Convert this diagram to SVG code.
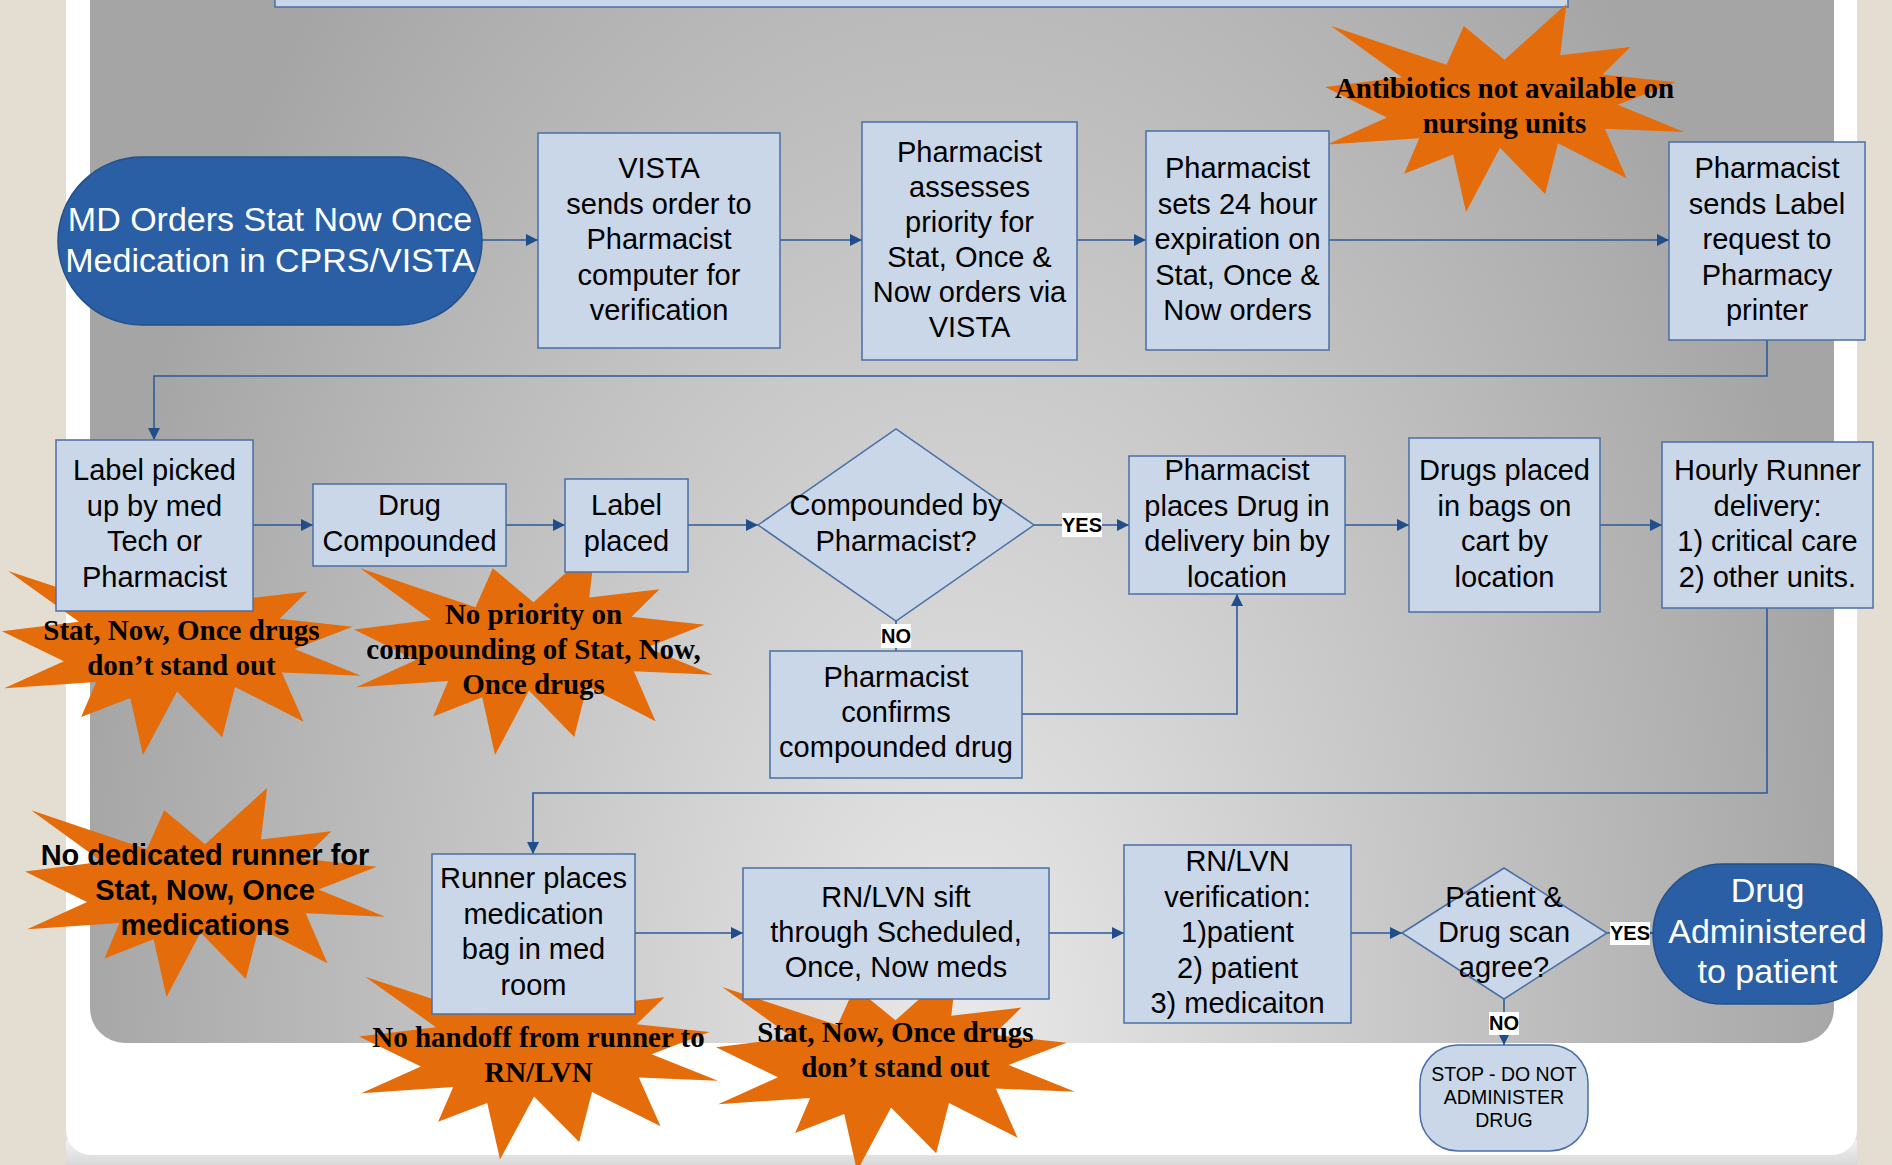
<svg xmlns="http://www.w3.org/2000/svg" xmlns:xlink="http://www.w3.org/1999/xlink" width="1892" height="1165" viewBox="0 0 1892 1165">
<style>
.box{fill:#C9D7E8;stroke:#4A6FA5;stroke-width:1.5}
.pill{fill:#2A5FA5;stroke:#23508C;stroke-width:1.5}
.t{font-family:"Liberation Sans",Arial,sans-serif;font-size:29px;fill:#000;text-anchor:middle}
.tw{font-family:"Liberation Sans",Arial,sans-serif;font-size:34px;fill:#fff;text-anchor:middle}
.ts{font-family:"Liberation Sans",Arial,sans-serif;font-size:19.5px;fill:#000;text-anchor:middle}
.burst{fill:#E46C0A}
.bt{font-family:"Liberation Serif","Times New Roman",serif;font-weight:bold;font-size:29px;fill:#000;text-anchor:middle}
.bs{font-family:"Liberation Sans",Arial,sans-serif;font-weight:bold;font-size:29px;fill:#000;text-anchor:middle}
.conn{fill:none;stroke:#2E5A97;stroke-width:1.6}
.lblbg{fill:#fff}
.lbl{font-family:"Liberation Sans",Arial,sans-serif;font-weight:bold;font-size:20px;fill:#000;text-anchor:middle}
</style>
<defs>
<radialGradient id="panelGrad" gradientUnits="userSpaceOnUse" cx="0" cy="0" r="1" gradientTransform="translate(962 1040) scale(900 1500)">
<stop offset="0" stop-color="#E9E9E9"/>
<stop offset="1" stop-color="#A5A5A5"/>
</radialGradient>
<linearGradient id="shadowGrad" x1="0" y1="0" x2="0" y2="1">
<stop offset="0" stop-color="#F2F2F2"/>
<stop offset="1" stop-color="#D8D8D8"/>
</linearGradient>
<marker id="arrow" markerUnits="userSpaceOnUse" markerWidth="12" markerHeight="12" refX="12" refY="6" orient="auto">
<path d="M0,0 L12,6 L0,12 Z" fill="#1F4E8A"/>
</marker>
<path id="seal" d="M108 58 L145.22 0 L141.55 53.25 L183.8 44.57 L167.02 73.15 L210.97 81.37 L176.07 104.75 L216 132.9 L168.37 129.42 L181.45 180.95 L140.2 144.57 L132.47 197.37 L105.32 149.35 L84.85 216 L77.15 156.27 L47.62 176.17 L56.67 139.37 L1.35 145.87 L37.22 117.75 L0 86.15 L46.27 76.17 L3.7 22.95 L73.12 63.2 L83.52 22.95 Z"/>
</defs>

<!-- background -->
<rect x="0" y="0" width="1892" height="1165" fill="#E4DDD1"/>
<rect x="66" y="1140" width="1791" height="25" fill="url(#shadowGrad)"/>
<rect x="66" y="-40" width="1791" height="1195" rx="25" ry="25" fill="#FFFFFF"/>
<rect x="90" y="-40" width="1744" height="1083" rx="35" ry="35" fill="url(#panelGrad)"/>
<rect x="275" y="-20" width="1293" height="27" class="box"/>

<!-- issue starbursts -->
<g id="burst-antibiotics">
<use xlink:href="#seal" class="burst" transform="translate(1325 4) scale(1.662 0.963)"/>
<text class="bt" x="1504.5" y="98">Antibiotics not available on</text>
<text class="bt" x="1504.5" y="133">nursing units</text>
</g>
<g id="burst-standout1">
<use xlink:href="#seal" class="burst" transform="translate(2 549) scale(1.662 0.954)"/>
<text class="bt" x="181.5" y="640">Stat, Now, Once drugs</text>
<text class="bt" x="181.5" y="675">don’t stand out</text>
</g>
<g id="burst-priority">
<use xlink:href="#seal" class="burst" transform="translate(354 546) scale(1.662 0.968)"/>
<text class="bt" x="533.5" y="624">No priority on</text>
<text class="bt" x="533.5" y="659">compounding of Stat, Now,</text>
<text class="bt" x="533.5" y="694">Once drugs</text>
</g>
<g id="burst-runner">
<use xlink:href="#seal" class="burst" transform="translate(25 788) scale(1.667 0.968)"/>
<text class="bs" x="205" y="865">No dedicated runner for</text>
<text class="bs" x="205" y="900">Stat, Now, Once</text>
<text class="bs" x="205" y="935">medications</text>
</g>
<g id="burst-handoff">
<use xlink:href="#seal" class="burst" transform="translate(359 955) scale(1.662 0.947)"/>
<text class="bt" x="538.5" y="1047">No handoff from runner to</text>
<text class="bt" x="538.5" y="1082">RN/LVN</text>
</g>
<g id="burst-standout2">
<use xlink:href="#seal" class="burst" transform="translate(716 965) scale(1.662 0.954)"/>
<text class="bt" x="895.5" y="1042">Stat, Now, Once drugs</text>
<text class="bt" x="895.5" y="1077">don’t stand out</text>
</g>

<!-- connectors -->
<g id="connectors">
<path class="conn" d="M482 240 H538" marker-end="url(#arrow)"/>
<path class="conn" d="M780 240 H862" marker-end="url(#arrow)"/>
<path class="conn" d="M1077 240 H1146" marker-end="url(#arrow)"/>
<path class="conn" d="M1329 240 H1669" marker-end="url(#arrow)"/>
<path class="conn" d="M1767 340 V376 H154 V440" marker-end="url(#arrow)"/>
<path class="conn" d="M253 525 H313" marker-end="url(#arrow)"/>
<path class="conn" d="M506 525 H565" marker-end="url(#arrow)"/>
<path class="conn" d="M688 525 H758" marker-end="url(#arrow)"/>
<path class="conn" d="M1034 525 H1129" marker-end="url(#arrow)"/>
<path class="conn" d="M896 621 V651"/>
<path class="conn" d="M1022 714 H1237 V594" marker-end="url(#arrow)"/>
<path class="conn" d="M1345 525 H1409" marker-end="url(#arrow)"/>
<path class="conn" d="M1600 525 H1662" marker-end="url(#arrow)"/>
<path class="conn" d="M1767 608 V793 H533 V854" marker-end="url(#arrow)"/>
<path class="conn" d="M635 933 H743" marker-end="url(#arrow)"/>
<path class="conn" d="M1049 933 H1124" marker-end="url(#arrow)"/>
<path class="conn" d="M1351 933 H1402" marker-end="url(#arrow)"/>
<path class="conn" d="M1607 933 H1653" marker-end="url(#arrow)"/>
<path class="conn" d="M1504 999 V1045" marker-end="url(#arrow)"/>
<rect class="lblbg" x="1062" y="513" width="40" height="24"/>
<text class="lbl" x="1082" y="532">YES</text>
<rect class="lblbg" x="881" y="624" width="30" height="24"/>
<text class="lbl" x="896" y="643">NO</text>
<rect class="lblbg" x="1610" y="922" width="40" height="23"/>
<text class="lbl" x="1630" y="940">YES</text>
<rect class="lblbg" x="1489" y="1012" width="30" height="23"/>
<text class="lbl" x="1504" y="1030">NO</text>
</g>

<!-- nodes -->
<g id="n-md-orders">
<rect class="pill" x="58" y="157" width="424" height="168" rx="84" ry="84"/>
<text class="tw" x="270" y="231">MD Orders Stat Now Once</text>
<text class="tw" x="270" y="272">Medication in CPRS/VISTA</text>
</g>
<g id="n-vista-sends">
<rect class="box" x="538" y="133" width="242" height="215"/>
<text class="t" x="659" y="178">VISTA</text>
<text class="t" x="659" y="213.5">sends order to</text>
<text class="t" x="659" y="249">Pharmacist</text>
<text class="t" x="659" y="284.5">computer for</text>
<text class="t" x="659" y="320">verification</text>
</g>
<g id="n-assesses">
<rect class="box" x="862" y="122" width="215" height="238"/>
<text class="t" x="969.5" y="162">Pharmacist</text>
<text class="t" x="969.5" y="197">assesses</text>
<text class="t" x="969.5" y="232">priority for</text>
<text class="t" x="969.5" y="267">Stat, Once &amp;</text>
<text class="t" x="969.5" y="302">Now orders via</text>
<text class="t" x="969.5" y="337">VISTA</text>
</g>
<g id="n-expiration">
<rect class="box" x="1146" y="131" width="183" height="219"/>
<text class="t" x="1237.5" y="178">Pharmacist</text>
<text class="t" x="1237.5" y="213.5">sets 24 hour</text>
<text class="t" x="1237.5" y="249">expiration on</text>
<text class="t" x="1237.5" y="284.5">Stat, Once &amp;</text>
<text class="t" x="1237.5" y="320">Now orders</text>
</g>
<g id="n-label-request">
<rect class="box" x="1669" y="142" width="196" height="198"/>
<text class="t" x="1767" y="178">Pharmacist</text>
<text class="t" x="1767" y="213.5">sends Label</text>
<text class="t" x="1767" y="249">request to</text>
<text class="t" x="1767" y="284.5">Pharmacy</text>
<text class="t" x="1767" y="320">printer</text>
</g>
<g id="n-label-picked">
<rect class="box" x="56" y="440" width="197" height="171"/>
<text class="t" x="154.5" y="480">Label picked</text>
<text class="t" x="154.5" y="515.5">up by med</text>
<text class="t" x="154.5" y="551">Tech or</text>
<text class="t" x="154.5" y="586.5">Pharmacist</text>
</g>
<g id="n-drug-compounded">
<rect class="box" x="313" y="484" width="193" height="82"/>
<text class="t" x="409.5" y="515">Drug</text>
<text class="t" x="409.5" y="551">Compounded</text>
</g>
<g id="n-label-placed">
<rect class="box" x="565" y="479" width="123" height="93"/>
<text class="t" x="626.5" y="515">Label</text>
<text class="t" x="626.5" y="551">placed</text>
</g>
<g id="n-compounded-q">
<polygon class="box" points="758,525 896,429 1034,525 896,621"/>
<text class="t" x="896" y="515">Compounded by</text>
<text class="t" x="896" y="551">Pharmacist?</text>
</g>
<g id="n-delivery-bin">
<rect class="box" x="1129" y="456" width="216" height="138"/>
<text class="t" x="1237" y="480">Pharmacist</text>
<text class="t" x="1237" y="515.5">places Drug in</text>
<text class="t" x="1237" y="551">delivery bin by</text>
<text class="t" x="1237" y="586.5">location</text>
</g>
<g id="n-confirms">
<rect class="box" x="770" y="651" width="252" height="127"/>
<text class="t" x="896" y="687">Pharmacist</text>
<text class="t" x="896" y="722">confirms</text>
<text class="t" x="896" y="757">compounded drug</text>
</g>
<g id="n-bags-cart">
<rect class="box" x="1409" y="438" width="191" height="174"/>
<text class="t" x="1504.5" y="480">Drugs placed</text>
<text class="t" x="1504.5" y="515.5">in bags on</text>
<text class="t" x="1504.5" y="551">cart by</text>
<text class="t" x="1504.5" y="586.5">location</text>
</g>
<g id="n-hourly-runner">
<rect class="box" x="1662" y="442" width="211" height="166"/>
<text class="t" x="1767.5" y="480">Hourly Runner</text>
<text class="t" x="1767.5" y="515.5">delivery:</text>
<text class="t" x="1767.5" y="551">1) critical care</text>
<text class="t" x="1767.5" y="586.5">2) other units.</text>
</g>
<g id="n-runner-places">
<rect class="box" x="432" y="854" width="203" height="160"/>
<text class="t" x="533.5" y="888">Runner places</text>
<text class="t" x="533.5" y="923.5">medication</text>
<text class="t" x="533.5" y="959">bag in med</text>
<text class="t" x="533.5" y="994.5">room</text>
</g>
<g id="n-sift">
<rect class="box" x="743" y="868" width="306" height="131"/>
<text class="t" x="896" y="907">RN/LVN sift</text>
<text class="t" x="896" y="942">through Scheduled,</text>
<text class="t" x="896" y="977">Once, Now meds</text>
</g>
<g id="n-verification">
<rect class="box" x="1124" y="845" width="227" height="178"/>
<text class="t" x="1237.5" y="871">RN/LVN</text>
<text class="t" x="1237.5" y="906.5">verification:</text>
<text class="t" x="1237.5" y="942">1)patient</text>
<text class="t" x="1237.5" y="977.5">2) patient</text>
<text class="t" x="1237.5" y="1013">3) medicaiton</text>
</g>
<g id="n-scan-agree">
<polygon class="box" points="1402,933 1504,868 1607,933 1504,999"/>
<text class="t" x="1504" y="907">Patient &amp;</text>
<text class="t" x="1504" y="942">Drug scan</text>
<text class="t" x="1504" y="977">agree?</text>
</g>
<g id="n-administered">
<rect class="pill" x="1653" y="864" width="229" height="140" rx="70" ry="70"/>
<text class="tw" x="1767.5" y="902">Drug</text>
<text class="tw" x="1767.5" y="943">Administered</text>
<text class="tw" x="1767.5" y="983">to patient</text>
</g>
<g id="n-stop">
<rect class="box" x="1420" y="1045" width="168" height="106" rx="38" ry="38"/>
<text class="ts" x="1504" y="1081">STOP - DO NOT</text>
<text class="ts" x="1504" y="1104">ADMINISTER</text>
<text class="ts" x="1504" y="1127">DRUG</text>
</g>
</svg>
